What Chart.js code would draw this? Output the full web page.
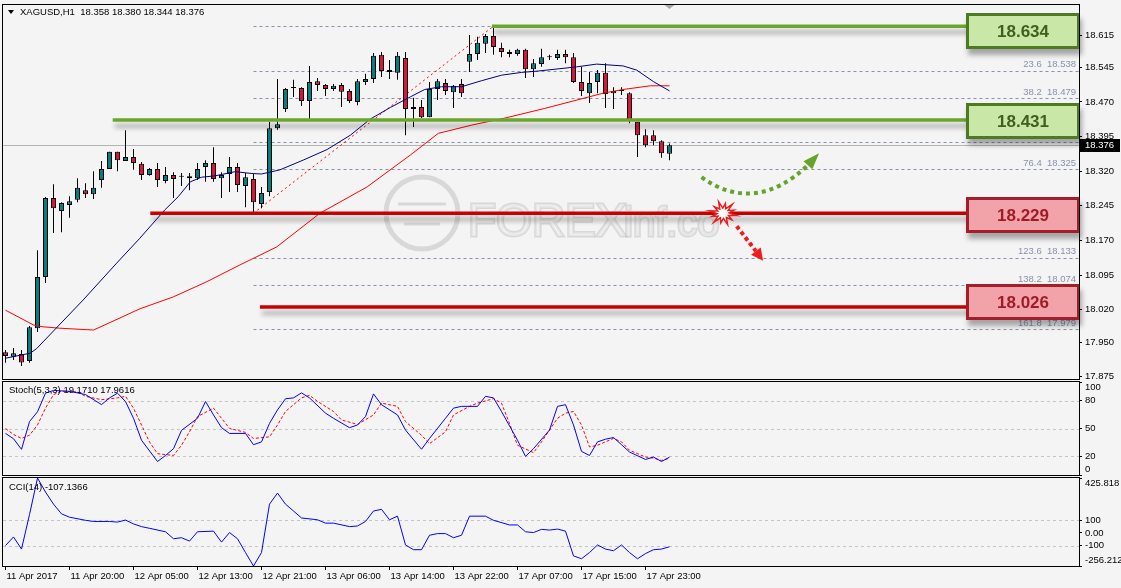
<!DOCTYPE html>
<html>
<head>
<meta charset="utf-8">
<title>XAGUSD H1</title>
<script src="https://cdn.jsdelivr.net/npm/chart.js@4.4.1/dist/chart.umd.min.js"></script>
<style>
  html, body { margin: 0; padding: 0; background: #f4f4f4; }
  #wrap { position: relative; width: 1121px; height: 588px; overflow: hidden; background: #f4f4f4; }
  #wrap canvas { position: absolute; left: 0; }
</style>
</head>
<body>
<div id="wrap">
  <canvas id="chart-price" width="1121" height="381" style="top:0"></canvas>
  <canvas id="chart-stoch" width="1121" height="96" style="top:381px"></canvas>
  <canvas id="chart-cci" width="1121" height="111" style="top:477px"></canvas>
</div>
<script>
// XAGUSD H1 candles, one per hour from 11 Apr 12:00
const opens  = [17.928,17.918,17.924,17.909,17.980,18.091,18.262,18.234,18.247,18.258,18.279,18.270,18.301,18.325,18.362,18.342,18.351,18.336,18.312,18.325,18.299,18.312,18.310,18.309,18.305,18.329,18.338,18.305,18.314,18.329,18.288,18.303,18.249,18.275,18.413,18.455,18.500,18.500,18.472,18.515,18.507,18.498,18.507,18.494,18.470,18.513,18.520,18.572,18.539,18.533,18.565,18.455,18.459,18.437,18.498,18.511,18.491,18.509,18.557,18.574,18.596,18.613,18.587,18.578,18.574,18.583,18.541,18.552,18.567,18.565,18.574,18.567,18.513,18.489,18.513,18.533,18.489,18.494,18.489,18.427,18.398,18.398,18.385,18.358];
const highs  = [17.933,17.937,17.933,17.985,18.149,18.264,18.292,18.253,18.266,18.305,18.294,18.320,18.342,18.362,18.362,18.409,18.368,18.340,18.327,18.338,18.329,18.318,18.316,18.316,18.338,18.344,18.372,18.318,18.351,18.338,18.316,18.314,18.286,18.427,18.520,18.500,18.518,18.502,18.548,18.522,18.509,18.509,18.511,18.498,18.520,18.531,18.576,18.578,18.561,18.578,18.578,18.479,18.474,18.513,18.520,18.520,18.507,18.520,18.615,18.611,18.617,18.634,18.598,18.583,18.585,18.585,18.563,18.585,18.572,18.583,18.583,18.576,18.546,18.535,18.539,18.554,18.502,18.502,18.491,18.427,18.411,18.409,18.387,18.380];
const lows   = [17.905,17.911,17.898,17.905,17.972,18.078,18.186,18.188,18.219,18.253,18.262,18.260,18.284,18.325,18.320,18.342,18.323,18.301,18.310,18.286,18.294,18.262,18.288,18.279,18.301,18.297,18.297,18.262,18.275,18.275,18.242,18.229,18.240,18.266,18.410,18.448,18.481,18.461,18.431,18.494,18.483,18.494,18.459,18.468,18.463,18.507,18.511,18.524,18.520,18.518,18.398,18.416,18.435,18.437,18.474,18.485,18.457,18.481,18.535,18.561,18.576,18.572,18.567,18.567,18.570,18.522,18.524,18.546,18.561,18.561,18.554,18.511,18.483,18.468,18.489,18.457,18.455,18.485,18.424,18.351,18.372,18.376,18.349,18.344];
const closes = [17.920,17.926,17.906,17.982,18.091,18.262,18.240,18.251,18.255,18.284,18.270,18.284,18.325,18.362,18.344,18.351,18.338,18.312,18.325,18.301,18.312,18.303,18.308,18.305,18.325,18.338,18.303,18.312,18.329,18.290,18.307,18.253,18.273,18.413,18.422,18.498,18.500,18.472,18.513,18.507,18.498,18.505,18.492,18.472,18.515,18.520,18.570,18.537,18.535,18.570,18.455,18.459,18.437,18.498,18.515,18.494,18.505,18.489,18.574,18.598,18.613,18.589,18.578,18.574,18.583,18.541,18.554,18.567,18.567,18.574,18.567,18.513,18.494,18.511,18.533,18.487,18.494,18.494,18.431,18.398,18.376,18.385,18.359,18.376];

// moving averages (bar position, price)
const maFastBars = [0,3.1,3.9,9.7,13.9,16.8,19.9,21.6,23.1,24.5,26.2,28.7,30.8,32.0,33.3,34.3,37.2,40.2,43.1,45.6,48.1,50.6,52.4,54.5,57.0,59.5,62.0,64.5,66.6,71.4,73.9,77.2,78.9,81.0,83];
const maFast     = [17.915,17.926,17.936,18.041,18.121,18.175,18.236,18.265,18.297,18.307,18.310,18.319,18.315,18.314,18.319,18.323,18.344,18.367,18.398,18.433,18.458,18.481,18.497,18.503,18.503,18.516,18.528,18.534,18.537,18.546,18.552,18.548,18.539,18.514,18.494];
const maSlowBars = [0,3.5,4.7,6.8,11.0,16.8,21.0,25.2,29.3,33.9,39.3,45.2,50.6,54.1,58.3,62.4,67.4,74.7,77.2,80.6,83];
const maSlow     = [18.019,17.987,17.983,17.980,17.976,18.022,18.048,18.081,18.117,18.156,18.229,18.286,18.355,18.402,18.420,18.435,18.456,18.489,18.497,18.505,18.505];

// Stochastic(5,3,3)
const stochKBars = [0,1,2,3,4,5,6,8,10,12,13,14,15,16,17,19,20,21,22,24,25,26,27,28,30,31,32,33,34,35,36,37,38,40,41,43,44,45,46,47,49,50,52,53,55,56,57,59,60,61,62,64,65,66,68,69,70,71,72,73,74,75,76,77,78,80,81,82,83];
const stochK     = [44.7,39,27.6,57.4,68,88,90.9,90,86.5,75.7,82.9,88,79,61,37.4,14.5,21,28.3,48,61,79,64.6,50.9,44.7,44.7,32.6,35.6,55.5,70,82,82.9,88.3,82.9,66.5,61,50.9,53.8,62.8,87.2,75.6,64.6,48.3,27.7,39.3,61,71.9,73.8,73.8,84.6,82.9,68.3,37.4,20,28.3,48.3,73.8,75.6,53.8,25.4,21,35.6,38.5,40.3,32.6,24.7,16.7,19.3,14.5,19.171];
const stochDBars = [0,1,2,3,4,5,6,7,9,10,12,14,15,16,17,18,19,21,22,23,24,26,27,28,30,31,33,34,35,37,38,39,41,42,44,46,47,49,50,52,53,55,56,58,59,61,62,63,64,66,67,69,70,71,72,73,74,76,77,78,80,81,82,83];
const stochD     = [50,43.6,39.3,42.8,53.8,71.9,86.4,90.1,89.4,84.6,81,82.9,84.6,71.9,53.8,35.6,22.9,21,32,46.5,62.8,71.9,61,50.1,45.8,39.3,41,53.8,68.3,82.9,85.7,79.2,68.3,59.2,54.4,64.6,77.3,73.8,57.4,42.8,33.7,46.5,64.6,73.8,77.3,82.1,77.3,55.5,32,24,35.6,61,66.5,68.3,53.8,30.2,32,39.3,35.6,26.6,19.3,18.2,15.7,17.9616];

// CCI(14)
const cciBars = [0,1,2,3,4,5,6,7,8,10,11,13,14,15,16,17,18,20,21,22,23,24,26,27,28,29,30,31,32,33,34,35,36,37,39,40,41,43,44,45,46,47,48,49,50,51,52,53,54,55,56,57,58,60,61,63,64,65,66,67,68,69,70,71,72,73,74,75,76,77,78,79,80,81,82,83];
const cciVals = [-98,-31,-125,142,425.818,317,223,148,122,98,89,89,84,100,70,49,36,9,-45,-37,-63,9,14,-71,3,-45,-152,-256.212,-152,223,309,223,170,116,102,76,76,49,54,89,170,183,102,130,-93,-130,-130,-18,-5,-5,-37,-18,130,130,98,62,62,9,3,28,22,30,14,-178,-200,-152,-93,-125,-138,-93,-152,-200,-160,-130,-125,-107.1366];

// axes
const timeLabels    = ['11 Apr 2017','11 Apr 20:00','12 Apr 05:00','12 Apr 13:00','12 Apr 21:00','13 Apr 06:00','13 Apr 14:00','13 Apr 22:00','17 Apr 07:00','17 Apr 15:00','17 Apr 23:00'];
const timeLabelBars = [0,8,16,24,32,40,48,56,64,72,80];
const priceTicks = [18.615,18.545,18.470,18.395,18.320,18.245,18.170,18.095,18.020,17.950,17.875];
const stochTicks = [100,80,50,20,0];
const stochLevels = [80,50,20];
const cciTicks = [425.818,100,0,-100,-256.212];
const cciLevels = [100,-100];

// drawn objects
const srLevels    = [18.634,18.431,18.229,18.026];
const srStartBars = [60.8,13.4,18.1,31.8];
const srIsGreen   = [true,true,false,false];
const fibRatios = [0,23.6,38.2,50,61.8,76.4,100,123.6,138.2,161.8];
const fibPrices = [18.634,18.538,18.479,18.431,18.384,18.325,18.229,18.133,18.074,17.979];
const fibStartBar = 31, fibEndBar = 61;
const lastPrice = 18.376;
const upArrow   = { from: [87.0,18.307], ctrl: [93.7,18.225], to: [100.3,18.333], tip: [101.7,18.359] };
const downArrow = { from: [91.4,18.201], to: [93.8,18.147], tip: [94.7,18.126] };
const breakStar = [89.7,18.229];

const xMin = -0.3125, xMax = 134.1875;
const FONT = '"Liberation Sans", Arial, sans-serif';
Chart.defaults.font.family = FONT;
Chart.defaults.font.size = 9.5;
Chart.defaults.color = '#000';

function rightAxis(min, max, tickVals, fmt) {
  return {
    position: 'right', min: min, max: max,
    afterBuildTicks: ax => { ax.ticks = tickVals.map(v => ({ value: v })); },
    afterFit: ax => { ax.width = 42; ax.paddingTop = 0; ax.paddingBottom = 0; },
    ticks: { callback: fmt, padding: 3, color: '#000', autoSkip: false },
    grid: { drawOnChartArea: false, tickLength: 3, tickColor: '#000' },
    border: { color: '#000' }
  };
}
const hiddenX = { type: 'linear', min: xMin, max: xMax, offset: false, display: false };

const baseOptions = {
  responsive: false, animation: false, devicePixelRatio: 1, events: [],
  plugins: { legend: { display: false }, tooltip: { enabled: false } }
};

function frame(chart) {
  const { ctx, chartArea: a } = chart;
  ctx.save();
  ctx.strokeStyle = '#000'; ctx.lineWidth = 1;
  ctx.strokeRect(a.left - 0.5, a.top - 0.5, a.right - a.left + 1, a.bottom - a.top + 1);
  ctx.restore();
}

function levelLines(chart, levels) {
  const { ctx, chartArea: a, scales: { y } } = chart;
  ctx.save();
  ctx.strokeStyle = '#c4c4c4'; ctx.setLineDash([3, 3]); ctx.lineWidth = 1;
  levels.forEach(v => {
    const yy = Math.round(y.getPixelForValue(v)) + 0.5;
    ctx.beginPath(); ctx.moveTo(a.left, yy); ctx.lineTo(a.right, yy); ctx.stroke();
  });
  ctx.restore();
}

function drawWatermark(ctx) {
  ctx.save();
  ctx.globalAlpha = 0.4;
  ctx.strokeStyle = '#b0b0b0';
  ctx.lineWidth = 5;
  ctx.beginPath(); ctx.arc(422, 213, 36, 0, Math.PI * 2); ctx.stroke();
  ctx.lineWidth = 3;
  ctx.beginPath(); ctx.moveTo(398, 204); ctx.lineTo(446, 204); ctx.stroke();
  ctx.beginPath(); ctx.moveTo(404, 224); ctx.lineTo(440, 224); ctx.stroke();
  ctx.font = '46px ' + FONT;
  ctx.textBaseline = 'alphabetic';
  ctx.lineWidth = 3; ctx.fillStyle = '#fafafa';
  ctx.strokeText('FOREX', 468, 236); ctx.fillText('FOREX', 468, 236);
  ctx.font = '40px ' + FONT;
  ctx.strokeText('inf.co', 624, 236); ctx.fillText('inf.co', 624, 236);
  ctx.restore();
}

function arrowHead(ctx, x0, y0, x1, y1, w) {
  const dx = x1 - x0, dy = y1 - y0, len = Math.hypot(dx, dy);
  const nx = -dy / len * w, ny = dx / len * w;
  ctx.beginPath();
  ctx.moveTo(x1, y1); ctx.lineTo(x0 + nx, y0 + ny); ctx.lineTo(x0 - nx, y0 - ny);
  ctx.closePath(); ctx.fill();
}

const priceDecor = {
  id: 'priceDecor',
  beforeDatasetsDraw(chart) {
    const { ctx, chartArea: a, scales: { x, y } } = chart;
    ctx.save();
    ctx.beginPath(); ctx.rect(a.left, a.top, a.right - a.left, a.bottom - a.top); ctx.clip();
    drawWatermark(ctx);
    // current bid line
    const yc = Math.round(y.getPixelForValue(lastPrice)) + 0.5;
    ctx.strokeStyle = '#b4b4b4'; ctx.lineWidth = 1;
    ctx.beginPath(); ctx.moveTo(a.left, yc); ctx.lineTo(a.right, yc); ctx.stroke();
    // fibonacci levels
    const fx = x.getPixelForValue(fibStartBar);
    ctx.strokeStyle = '#8592ad'; ctx.setLineDash([3, 3]);
    fibPrices.forEach(p => {
      const yy = Math.round(y.getPixelForValue(p)) + 0.5;
      ctx.beginPath(); ctx.moveTo(fx, yy); ctx.lineTo(a.right, yy); ctx.stroke();
    });
    ctx.setLineDash([]);
    ctx.fillStyle = '#8592ad'; ctx.font = '9.5px ' + FONT;
    ctx.textAlign = 'right'; ctx.textBaseline = 'bottom';
    fibPrices.forEach((p, k) => {
      ctx.fillText(fibRatios[k].toFixed(1) + '  ' + p.toFixed(3), a.right - 3, y.getPixelForValue(p) - 1);
    });
    // fibonacci base line
    ctx.strokeStyle = '#ff0000'; ctx.setLineDash([2, 3]);
    ctx.beginPath();
    ctx.moveTo(x.getPixelForValue(fibStartBar), y.getPixelForValue(fibPrices[6]));
    ctx.lineTo(x.getPixelForValue(fibEndBar), y.getPixelForValue(fibPrices[0]));
    ctx.stroke();
    ctx.restore();
  },
  afterDatasetsDraw(chart) {
    const { ctx, chartArea: a, scales: { x, y } } = chart;
    // support / resistance lines with value boxes
    srLevels.forEach((p, k) => {
      const green = srIsGreen[k];
      const yy = y.getPixelForValue(p);
      const bw = 114, bh = 36;
      const bx = a.right + 1 - bw;
      const by = Math.round(yy - bh / 2 + [5, 1, 2, -5][k]);
      ctx.save();
      ctx.shadowColor = 'rgba(0,0,0,0.32)'; ctx.shadowBlur = 5; ctx.shadowOffsetX = 2; ctx.shadowOffsetY = 6;
      ctx.strokeStyle = green ? '#6aa52c' : '#c80000'; ctx.lineWidth = 3.5;
      ctx.beginPath(); ctx.moveTo(x.getPixelForValue(srStartBars[k]), yy); ctx.lineTo(bx + 2, yy); ctx.stroke();
      ctx.fillStyle = green ? '#c9e7a7' : '#f2a3a9';
      ctx.fillRect(bx, by, bw, bh);
      ctx.restore();
      ctx.save();
      ctx.strokeStyle = green ? '#4d7a22' : '#a21f2a'; ctx.lineWidth = 3;
      ctx.strokeRect(bx + 1.5, by + 1.5, bw - 3, bh - 3);
      ctx.fillStyle = green ? '#3f5f1d' : '#a01b28';
      ctx.font = 'bold 17px ' + FONT; ctx.textAlign = 'center'; ctx.textBaseline = 'middle';
      ctx.fillText(p.toFixed(3), bx + bw / 2, by + bh / 2 + 1);
      ctx.restore();
    });

    // expected bounce (green) and breakdown (red) arrows
    ctx.save();
    const P = pt => [x.getPixelForValue(pt[0]), y.getPixelForValue(pt[1])];
    let f = P(upArrow.from), c = P(upArrow.ctrl), t = P(upArrow.to), tip = P(upArrow.tip);
    ctx.strokeStyle = '#66a32a'; ctx.fillStyle = '#66a32a'; ctx.lineWidth = 4; ctx.setLineDash([4, 4]);
    ctx.beginPath(); ctx.moveTo(f[0], f[1]); ctx.quadraticCurveTo(c[0], c[1], t[0], t[1]); ctx.stroke();
    ctx.setLineDash([]);
    arrowHead(ctx, t[0], t[1], tip[0], tip[1], 6);
    f = P(downArrow.from); t = P(downArrow.to); tip = P(downArrow.tip);
    ctx.strokeStyle = '#ee1c1c'; ctx.fillStyle = '#ee1c1c'; ctx.lineWidth = 4; ctx.setLineDash([4, 3]);
    ctx.beginPath(); ctx.moveTo(f[0], f[1]); ctx.lineTo(t[0], t[1]); ctx.stroke();
    ctx.setLineDash([]);
    arrowHead(ctx, t[0], t[1], tip[0], tip[1], 6);
    // break star
    const s = P(breakStar);
    ctx.beginPath();
    for (let k = 0; k < 24; k++) {
      const r = k % 2 ? 6 : 14 - (k % 4) * 1.2;
      const ang = k * Math.PI / 12 + 0.2;
      const px = s[0] + r * Math.cos(ang), py = s[1] + r * 0.85 * Math.sin(ang);
      k ? ctx.lineTo(px, py) : ctx.moveTo(px, py);
    }
    ctx.closePath();
    ctx.fillStyle = '#ffffff'; ctx.fill();
    ctx.strokeStyle = '#e32020'; ctx.lineWidth = 1.5; ctx.stroke();
    ctx.restore();

    // header
    ctx.save();
    ctx.fillStyle = '#000';
    ctx.beginPath(); ctx.moveTo(8, 10); ctx.lineTo(14, 10); ctx.lineTo(11, 14); ctx.closePath(); ctx.fill();
    ctx.font = '9.5px ' + FONT; ctx.textBaseline = 'middle';
    ctx.fillText('XAGUSD,H1  ' + [opens[83], highs[83], lows[83], closes[83]].map(v => v.toFixed(3)).join(' '), 20, 12.5);
    // chart shift marker
    const sx = x.getPixelForValue(opens.length - 1);
    ctx.fillStyle = '#a8a8a8';
    ctx.beginPath(); ctx.moveTo(sx - 5, a.top); ctx.lineTo(sx + 5, a.top); ctx.lineTo(sx, a.top + 4); ctx.closePath(); ctx.fill();
    ctx.restore();
  },
  afterDraw(chart) {
    frame(chart);
    const { ctx, chartArea: a, scales: { y } } = chart;
    const yc = Math.round(y.getPixelForValue(lastPrice));
    ctx.save();
    ctx.fillStyle = '#000';
    ctx.fillRect(a.right + 1, yc - 6, 40, 13);
    ctx.fillStyle = '#fff'; ctx.font = '9.5px ' + FONT; ctx.textBaseline = 'middle';
    ctx.fillText(lastPrice.toFixed(3), a.right + 6, yc + 0.5);
    ctx.restore();
  }
};

// price panel
new Chart(document.getElementById('chart-price').getContext('2d'), {
  type: 'bar',
  data: {
    datasets: [
      { type: 'line', label: 'MA fast', data: maFastBars.map((b, k) => ({ x: b, y: maFast[k] })),
        borderColor: '#00007f', borderWidth: 1, pointRadius: 0, order: 1 },
      { type: 'line', label: 'MA slow', data: maSlowBars.map((b, k) => ({ x: b, y: maSlow[k] })),
        borderColor: '#ff0000', borderWidth: 1, pointRadius: 0, order: 2 },
      { label: 'body', data: opens.map((o, i) => ({ x: i, y: [o, closes[i]] })),
        backgroundColor: opens.map((o, i) => closes[i] > o ? '#008080' : (closes[i] < o ? '#dc143c' : '#000')),
        borderColor: '#000', borderWidth: 1, borderSkipped: false, barThickness: 5, minBarLength: 1,
        inflateAmount: 0, grouped: false, order: 3 },
      { label: 'wick', data: opens.map((o, i) => ({ x: i, y: [lows[i], highs[i]] })),
        backgroundColor: '#000', barThickness: 1, inflateAmount: 0, grouped: false, order: 4 }
    ]
  },
  options: Object.assign({}, baseOptions, {
    layout: { padding: { left: 3, top: 5, right: 0, bottom: 2 } },
    scales: {
      x: hiddenX,
      y: rightAxis(17.870, 18.680, priceTicks, v => v.toFixed(3))
    }
  }),
  plugins: [priceDecor]
});

// stochastic panel
new Chart(document.getElementById('chart-stoch').getContext('2d'), {
  type: 'line',
  data: {
    datasets: [
      { label: 'Main', data: stochKBars.map((b, k) => ({ x: b, y: stochK[k] })),
        borderColor: '#0000ff', borderWidth: 1, pointRadius: 0 },
      { label: 'Signal', data: stochDBars.map((b, k) => ({ x: b, y: stochD[k] })),
        borderColor: '#ff0000', borderWidth: 1, borderDash: [3, 2], pointRadius: 0 }
    ]
  },
  options: Object.assign({}, baseOptions, {
    layout: { padding: { left: 3, top: 1, right: 0, bottom: 2 } },
    scales: {
      x: hiddenX,
      y: rightAxis(0, 100, stochTicks, v => v === 100 ? ['', '100'] : (v === 0 ? ['0', ''] : String(v)))
    }
  }),
  plugins: [{
    id: 'stochDecor',
    beforeDatasetsDraw(chart) { levelLines(chart, stochLevels); },
    afterDraw(chart) {
      frame(chart);
      const ctx = chart.ctx;
      ctx.save(); ctx.fillStyle = '#000'; ctx.font = '9.5px ' + FONT; ctx.textBaseline = 'middle';
      ctx.fillText('Stoch(5,3,3) ' + stochK[stochK.length - 1].toFixed(4) + ' ' + stochD[stochD.length - 1].toFixed(4), 9, 9);
      ctx.restore();
    }
  }]
});

// CCI panel
new Chart(document.getElementById('chart-cci').getContext('2d'), {
  type: 'line',
  data: {
    datasets: [
      { label: 'CCI', data: cciBars.map((b, k) => ({ x: b, y: cciVals[k] })),
        borderColor: '#0000ff', borderWidth: 1, pointRadius: 0 }
    ]
  },
  options: Object.assign({}, baseOptions, {
    layout: { padding: { left: 3, top: 1, right: 0, bottom: 2 } },
    scales: {
      x: {
        type: 'linear', min: xMin, max: xMax, offset: false, position: 'bottom',
        afterBuildTicks: ax => { ax.ticks = timeLabelBars.map(v => ({ value: v })); },
        afterFit: ax => { ax.height = 20; ax.paddingLeft = 0; ax.paddingRight = 0; },
        ticks: { callback: (v, i) => timeLabels[i], align: 'start', labelOffset: 1, padding: 1,
                 maxRotation: 0, minRotation: 0, autoSkip: false, color: '#000' },
        grid: { drawOnChartArea: false, tickLength: 4, tickColor: '#000' },
        border: { color: '#000' }
      },
      y: rightAxis(-256.212, 425.818, cciTicks, v => {
        if (v === 425.818) return ['', '425.818'];
        if (v === -256.212) return ['-256.212', ''];
        return v === 0 ? '0.00' : String(v);
      })
    }
  }),
  plugins: [{
    id: 'cciDecor',
    beforeDatasetsDraw(chart) { levelLines(chart, cciLevels); },
    afterDraw(chart) {
      frame(chart);
      const ctx = chart.ctx;
      ctx.save(); ctx.fillStyle = '#000'; ctx.font = '9.5px ' + FONT; ctx.textBaseline = 'middle';
      ctx.fillText('CCI(14) ' + cciVals[cciVals.length - 1].toFixed(4), 9, 10);
      ctx.restore();
    }
  }]
});
</script>
</body>
</html>
